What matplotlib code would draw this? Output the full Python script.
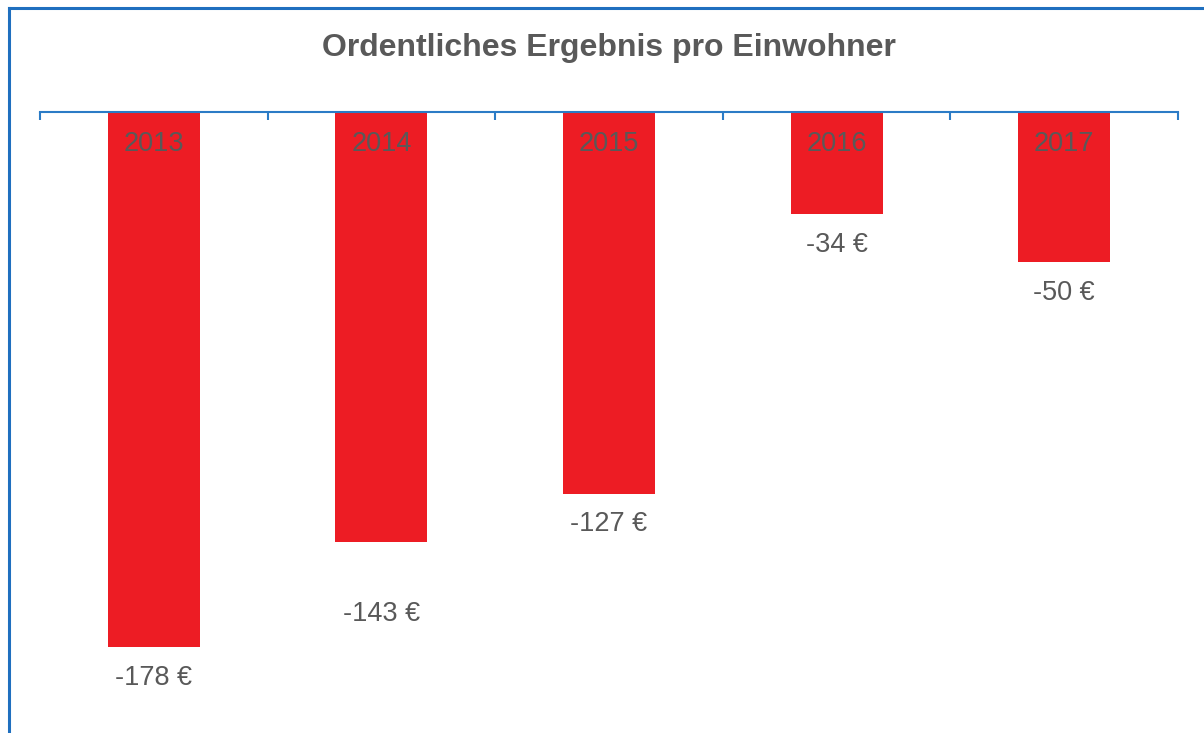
#!/usr/bin/env python3
import matplotlib.pyplot as plt
from matplotlib.lines import Line2D

YEARS = ["2013", "2014", "2015", "2016", "2017"]
VALUES = [-178, -143, -127, -34, -50]

TITLE = "Ordentliches Ergebnis pro Einwohner"
RED = "#ED1C24"
GREY = "#595959"
BLUE = "#2B7BC6"

# value labels sit under the bars; the 2014 one is pushed further down in the original
LABEL_OFFSETS = [-22, -52, -22, -22, -22]

plt.rcParams["font.family"] = ["Liberation Sans", "DejaVu Sans"]

fig = plt.figure(figsize=(12.04, 7.33), dpi=100)
ax = fig.add_axes([40 / 1204, 0.0, 1138 / 1204, 621 / 733])

x = list(range(len(YEARS)))
ax.bar(x, VALUES, width=0.404, color=RED, zorder=2)
ax.set_xlim(-0.5, len(YEARS) - 0.5)
ax.set_ylim(-206.6, 0)

for xi, year, val, off in zip(x, YEARS, VALUES, LABEL_OFFSETS):
    ax.annotate(year, (xi, 0), xytext=(0, -23), textcoords="offset points",
                ha="center", va="center", fontsize=19.5, color=GREY, zorder=3)
    ax.annotate(f"{val} €", (xi, val), xytext=(0, off), textcoords="offset points",
                ha="center", va="center", fontsize=19.5, color=GREY)

for s in ["left", "right", "bottom"]:
    ax.spines[s].set_visible(False)
ax.spines["top"].set_color(BLUE)
ax.spines["top"].set_linewidth(1.5)
ax.xaxis.tick_top()
ax.set_xticks([i - 0.5 for i in range(len(YEARS) + 1)])
ax.set_xticklabels([])
ax.tick_params(axis="x", direction="in", length=6, width=1.5, color=BLUE)
ax.set_yticks([])

# chart border (only left and top edges are inside the picture)
fig.add_artist(Line2D([9 / 1204, 9 / 1204], [0, 1 - 8 / 733], color="#1F6FBF",
                      linewidth=2.2, transform=fig.transFigure))
fig.add_artist(Line2D([9 / 1204, 1], [1 - 8 / 733, 1 - 8 / 733], color="#1F6FBF",
                      linewidth=2.2, transform=fig.transFigure))

fig.text(609 / 1204, 1 - 48 / 733, TITLE, ha="center", va="center",
         fontsize=23, fontweight="bold", color=GREY)

fig.savefig("out.png", dpi=100)
